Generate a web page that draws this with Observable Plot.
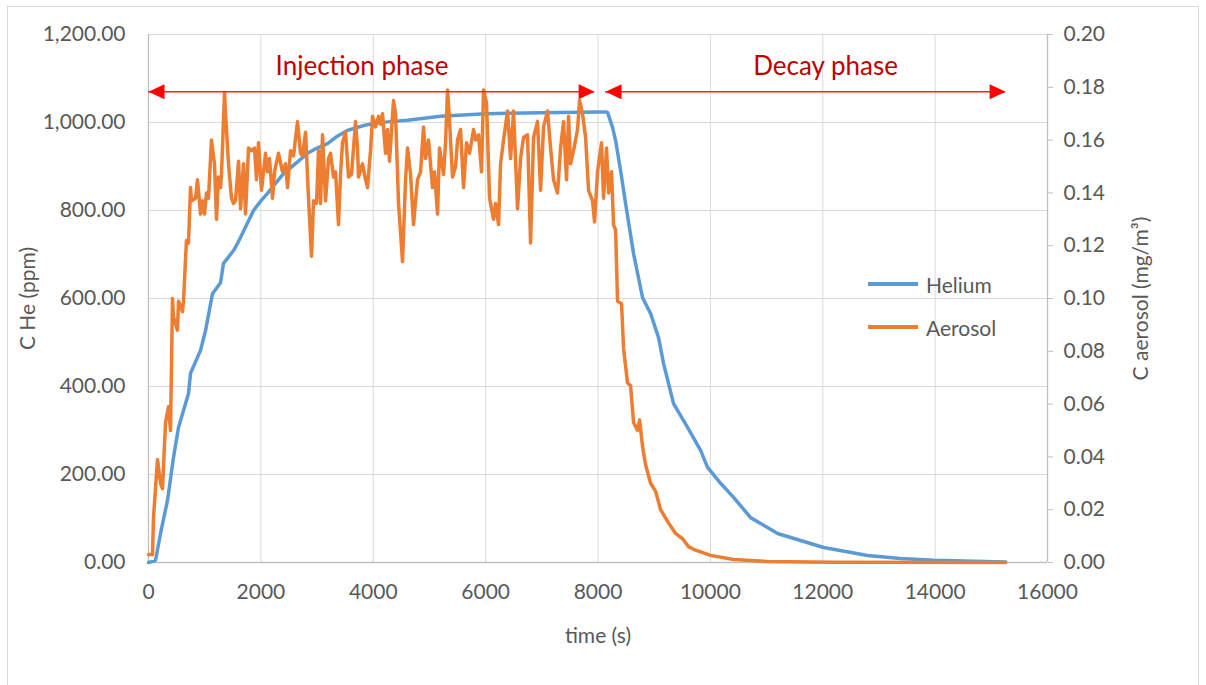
<!DOCTYPE html>
<html><head><meta charset="utf-8">
<script src="https://cdn.jsdelivr.net/npm/d3@7"></script>
<script src="https://cdn.jsdelivr.net/npm/@observablehq/plot@0.6"></script>
<style>
body{margin:0;background:#fff;}
#wrap{position:relative;width:1206px;height:685px;font-family:Lato,sans-serif;overflow:hidden;}
#border{position:absolute;left:7px;top:6px;width:1192px;height:690px;border:1px solid #d9d9d9;box-sizing:border-box;pointer-events:none;}
#chart{position:absolute;left:0;top:0;}
#legend{position:absolute;left:868px;top:269px;font-size:21px;color:#595959;}
.item{display:flex;align-items:center;height:30px;margin-bottom:13px;}
.sw{width:50px;height:3.5px;margin-right:8px;}
</style></head><body>
<div id="wrap"><div id="chart"></div><div id="legend"></div><div id="border"></div></div>
<script>
// Helium (left axis, ppm)
const heliumTime = [0,125,214,338,445,534,712,748,926,1015,1139,1282,1335,1513,1584,1700,1869,2000,2118,2250,2403,2600,2830,3000,3186,3350,
  3542,3800,4005,4300,4610,5198,5600,6000,6995,7992,8135,8170,8259,8313,8402,8491,8633,8793,8936,9078,9167,9345,9594,
  9826,9950,10182,10413,10716,11196,11606,12015,12798,13386,13973,15255];
const heliumPpm = [0,5,66,141,239,307,384,430,482,527,611,636,680,709,725,755,800,822,839,860,884,905,930,942,952,968,
  982,992,998,1002,1005,1014,1017,1020,1022,1024,1024,1023,989,959,891,816,702,602,566,511,452,361,307,
  255,216,180,148,102,66,50,34,16,9,5,1];

// Aerosol (right axis, mg/m3)
const aerosolTime = [0,71,89,160,214,249,303,356,392,427,445,516,534,605,623,641,659,676,712,748,
  765,837,872,926,961,997,1032,1068,1121,1175,1210,1246,1282,1299,1353,1371,1424,1477,1513,1549,
  1602,1638,1691,1727,1780,1833,1887,1922,1958,2011,2083,2118,2154,2207,2243,2314,2385,2439,2474,2528,
  2581,2652,2706,2741,2795,2848,2901,2937,2990,3026,3062,3097,3151,3204,3240,3293,3329,3382,3418,3453,
  3507,3560,3613,3649,3685,3720,3738,3809,3863,3898,3952,3987,4041,4094,4130,4165,4219,4254,4290,4361,
  4397,4450,4521,4575,4610,4664,4717,4788,4842,4895,4931,4984,5055,5091,5144,5180,5251,5287,5322,5358,
  5411,5465,5500,5554,5607,5660,5714,5785,5821,5874,5927,5963,6016,6070,6141,6177,6230,6266,6319,6390,
  6444,6497,6568,6622,6675,6746,6800,6853,6924,6978,7031,7102,7156,7209,7280,7334,7387,7440,7476,7512,
  7565,7636,7672,7725,7779,7832,7903,7939,7992,8063,8099,8152,8188,8241,8277,8313,8348,8419,8455,8526,
  8580,8633,8704,8740,8793,8847,8936,9025,9114,9256,9381,9505,9612,9701,10004,10413,11018,12193,15255];
const aerosolConc = [0.003,0.003,0.017,0.039,0.030,0.028,0.053,0.059,0.050,0.100,0.093,0.088,0.099,0.095,0.099,0.107,0.115,0.122,0.121,0.142,
  0.137,0.138,0.145,0.132,0.137,0.132,0.140,0.138,0.160,0.151,0.130,0.146,0.142,0.147,0.178,0.170,0.151,0.138,0.136,0.137,
  0.152,0.134,0.151,0.132,0.157,0.156,0.157,0.145,0.159,0.141,0.155,0.148,0.153,0.138,0.148,0.155,0.148,0.151,0.142,0.156,
  0.154,0.167,0.155,0.154,0.163,0.138,0.116,0.137,0.136,0.156,0.136,0.162,0.137,0.153,0.155,0.146,0.148,0.128,0.147,0.159,
  0.163,0.146,0.147,0.157,0.167,0.157,0.146,0.151,0.145,0.142,0.156,0.169,0.165,0.169,0.166,0.170,0.155,0.164,0.152,0.175,
  0.170,0.136,0.114,0.145,0.157,0.147,0.128,0.145,0.148,0.165,0.153,0.160,0.142,0.148,0.132,0.157,0.147,0.159,0.179,0.167,
  0.146,0.150,0.160,0.164,0.142,0.159,0.155,0.164,0.160,0.162,0.148,0.179,0.174,0.138,0.130,0.136,0.128,0.151,0.160,0.171,
  0.153,0.171,0.134,0.153,0.161,0.162,0.121,0.161,0.167,0.141,0.165,0.171,0.157,0.145,0.140,0.157,0.167,0.145,0.169,0.151,
  0.156,0.164,0.175,0.170,0.161,0.141,0.137,0.129,0.148,0.159,0.138,0.157,0.140,0.148,0.128,0.126,0.099,0.098,0.081,0.068,
  0.067,0.053,0.050,0.054,0.044,0.037,0.030,0.027,0.020,0.015,0.011,0.009,0.006,0.005,0.0027,0.0011,0.0004,0.0001,0];

const xTicks = [0,2000,4000,6000,8000,10000,12000,14000,16000];
const leftTicks = [0,200,400,600,800,1000,1200];
const rightTicks = [0,0.02,0.04,0.06,0.08,0.10,0.12,0.14,0.16,0.18,0.20];
const seriesNames = ["Helium","Aerosol"];
const seriesColors = ["#5b9bd5","#ed7d31"];

// phase annotations
const phaseLabels = ["Injection phase","Decay phase"];
const phaseStart = [0,8135];
const phaseEnd = [7940,15255];
const phaseLabelX = [3800,12050];
const arrowLevelPpm = 1070;

const heliumMax = 1200, aerosolMax = 0.2;
const k = heliumMax / aerosolMax;

const helium = heliumTime.map((t,i)=>({t, v: heliumPpm[i]}));
const aerosol = aerosolTime.map((t,i)=>({t, v: aerosolConc[i]}));
const phases = phaseLabels.map((label,i)=>({label, start: phaseStart[i], end: phaseEnd[i], lx: phaseLabelX[i], level: arrowLevelPpm}));

const tipRight = {draw(ctx){ ctx.moveTo(0,0); ctx.lineTo(-16,-7.5); ctx.lineTo(-16,7.5); ctx.closePath(); }};
const tipLeft = {draw(ctx){ ctx.moveTo(0,0); ctx.lineTo(16,-7.5); ctx.lineTo(16,7.5); ctx.closePath(); }};

const chart = Plot.plot({
  width:1206, height:685,
  marginLeft:148, marginRight:159, marginTop:34, marginBottom:123,
  x:{domain:[0,16000]},
  y:{domain:[0,1200]},
  style:{fontFamily:"Lato, sans-serif", fontSize:"21px", color:"#595959", background:"transparent"},
  marks:[
    Plot.gridX(xTicks,{stroke:"#d9d9d9", strokeOpacity:1, strokeWidth:1}),
    Plot.gridY(leftTicks,{stroke:"#d9d9d9", strokeOpacity:1, strokeWidth:1}),
    Plot.ruleX([0,16000],{stroke:"#bfbfbf", strokeWidth:1.3}),
    Plot.ruleY([0],{stroke:"#bfbfbf", strokeWidth:1.3}),
    Plot.axisY(leftTicks,{anchor:"left", tickSize:0, tickPadding:23, tickFormat:d3.format(",.2f"), fontSize:21,
      label:"C He (ppm)", labelAnchor:"center", labelOffset:128, labelArrow:false, fill:"#595959"}),
    Plot.axisY(rightTicks.map(d=>d*k),{anchor:"right", tickSize:5, tickPadding:11, stroke:"#bfbfbf", fontSize:21,
      tickFormat:d=>d3.format(".2f")(d/k), label:"C aerosol (mg/m³)", labelAnchor:"center", labelOffset:100, labelArrow:false, fill:"#595959"}),
    Plot.axisX(xTicks,{anchor:"bottom", tickSize:0, tickPadding:22, tickFormat:d3.format("d"), fontSize:21,
      label:"time (s)", labelAnchor:"center", labelOffset:80, labelArrow:false, fill:"#595959"}),
    Plot.line(helium,{x:"t", y:"v", stroke:seriesColors[0], strokeWidth:3.5, strokeLinejoin:"round"}),
    Plot.line(aerosol,{x:"t", y:d=>d.v*k, stroke:seriesColors[1], strokeWidth:3.5, strokeLinejoin:"round"}),
    Plot.ruleY(phases,{y:"level", x1:"start", x2:"end", stroke:"#ff2020", strokeWidth:1.6}),
    Plot.dot(phases,{x:"start", y:"level", symbol:tipLeft, fill:"#ff0000", stroke:"none", r:8}),
    Plot.dot(phases,{x:"end", y:"level", symbol:tipRight, fill:"#ff0000", stroke:"none", r:8}),
    Plot.text(phases,{x:"lx", y:"level", text:"label", dy:-25, fill:"#c00000", fontSize:26})
  ]
});
document.getElementById("chart").appendChild(chart);

const legend = document.getElementById("legend");
seriesNames.forEach((name,i)=>{
  const item = document.createElement("div"); item.className="item";
  const sw = document.createElement("div"); sw.className="sw"; sw.style.background=seriesColors[i];
  const tx = document.createElement("span"); tx.textContent=name;
  item.appendChild(sw); item.appendChild(tx); legend.appendChild(item);
});
</script>
</body></html>
